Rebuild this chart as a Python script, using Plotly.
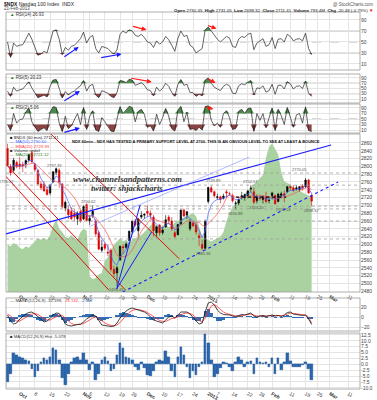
import plotly.graph_objects as go
import pandas as pd
import numpy as np

# ---------------- data ----------------
dates = ["2012-09-25","2012-09-26","2012-09-27","2012-09-28",
 "2012-10-01","2012-10-02","2012-10-03","2012-10-04","2012-10-05",
 "2012-10-08","2012-10-09","2012-10-10","2012-10-11","2012-10-12",
 "2012-10-15","2012-10-16","2012-10-17","2012-10-18","2012-10-19",
 "2012-10-22","2012-10-23","2012-10-24","2012-10-25","2012-10-26",
 "2012-10-31","2012-11-01","2012-11-02",
 "2012-11-05","2012-11-06","2012-11-07","2012-11-08","2012-11-09",
 "2012-11-12","2012-11-13","2012-11-14","2012-11-15","2012-11-16",
 "2012-11-19","2012-11-20","2012-11-21","2012-11-23",
 "2012-11-26","2012-11-27","2012-11-28","2012-11-29","2012-11-30",
 "2012-12-03","2012-12-04","2012-12-05","2012-12-06","2012-12-07",
 "2012-12-10","2012-12-11","2012-12-12","2012-12-13","2012-12-14",
 "2012-12-17","2012-12-18","2012-12-19","2012-12-20","2012-12-21",
 "2012-12-24","2012-12-26","2012-12-27","2012-12-28","2012-12-31",
 "2013-01-02","2013-01-03","2013-01-04",
 "2013-01-07","2013-01-08","2013-01-09","2013-01-10","2013-01-11",
 "2013-01-14","2013-01-15","2013-01-16","2013-01-17","2013-01-18",
 "2013-01-22","2013-01-23","2013-01-24","2013-01-25",
 "2013-01-28","2013-01-29","2013-01-30","2013-01-31","2013-02-01",
 "2013-02-04","2013-02-05","2013-02-06","2013-02-07","2013-02-08",
 "2013-02-11","2013-02-12","2013-02-13","2013-02-14","2013-02-15",
 "2013-02-19","2013-02-20","2013-02-21"]

opens = [2846,2800,2790,2810, 2806,2805,2806,2816,2835, 2805,2790,2755,2755,2740,
 2732,2760,2783,2790,2755, 2693,2690,2685,2680,2665, 2685,2665,2702,
 2660,2675,2660,2630,2585, 2600,2580,2585,2536,2527, 2560,2594,2592,2610,
 2632,2660,2635,2670,2675, 2685,2680,2670,2630,2650, 2630,2645,2670,2660,2630,
 2625,2653,2688,2675,2640, 2655,2650,2622,2600,2590, 2710,2745,2735,
 2720,2722,2718,2735,2730, 2725,2705,2706,2720,2720, 2725,2742,2735,2712,
 2720,2715,2722,2712,2725, 2725,2710,2725,2730,2735, 2748,2745,2742,2740,2750,
 2748,2765,2725]
highs = [2858,2806,2822,2815, 2823,2812,2818,2832,2842, 2808,2792,2762,2762,2748,
 2755,2788,2797,2795,2757, 2712,2700,2695,2690,2685, 2688,2700,2705,
 2675,2700,2665,2635,2612, 2605,2600,2590,2545,2545, 2597,2600,2605,2635,
 2660,2665,2668,2685,2680, 2700,2687,2675,2648,2652, 2645,2675,2675,2670,2635,
 2652,2690,2692,2685,2665, 2660,2655,2630,2612,2664, 2747,2750,2738,
 2730,2725,2730,2740,2735, 2730,2712,2718,2735,2730, 2740,2752,2745,2728,
 2728,2725,2735,2722,2735, 2728,2732,2735,2738,2750, 2752,2752,2752,2750,2755,
 2770,2768,2731]
lows = [2800,2776,2786,2795, 2793,2785,2795,2810,2808, 2786,2752,2740,2735,2725,
 2726,2758,2778,2745,2692, 2685,2665,2662,2660,2650, 2656,2663,2660,
 2650,2668,2620,2585,2580, 2585,2570,2530,2515,2494, 2558,2575,2588,2608,
 2628,2645,2620,2665,2665, 2672,2665,2620,2618,2622, 2625,2643,2652,2635,2616,
 2623,2650,2670,2665,2635, 2645,2625,2596,2585,2587, 2705,2732,2720,
 2715,2705,2715,2718,2725, 2708,2690,2700,2715,2712, 2718,2735,2703,2705,
 2712,2705,2705,2705,2715, 2702,2708,2718,2708,2732, 2738,2735,2738,2735,2738,
 2745,2730,2698]
closes = [2803,2783,2816,2799, 2800,2802,2815,2830,2812, 2792,2755,2745,2737,2728,
 2752,2786,2794,2760,2696, 2708,2676,2666,2670,2680, 2660,2697,2661,
 2667,2685,2627,2588,2593, 2590,2578,2536,2525,2540, 2595,2592,2601,2634,
 2660,2650,2665,2675,2677, 2680,2675,2635,2645,2630, 2637,2663,2660,2640,2620,
 2651,2688,2673,2684,2658, 2648,2632,2617,2590,2660, 2746,2735,2725,
 2722,2715,2724,2732,2730, 2712,2706,2715,2725,2728, 2737,2744,2708,2720,
 2718,2722,2710,2713,2732, 2704,2729,2730,2725,2748, 2745,2738,2745,2748,2744,
 2765,2732,2711]
volume_m = [300,290,310,300, 280,270,290,280,300, 320,340,330,340,330,
 360,420,460,400,380, 350,340,360,340,330, 380,400,390,
 100,80,90,110,120, 200,220,260,300,320, 340,320,330,310,
 330,340,350,360,380, 400,420,440,420,410, 420,430,410,420,440,
 450,460,470,480,490, 500,480,420,350,340, 330,320,330,
 340,350,380,450,500, 540,560,580,600,620, 640,660,680,700,
 720,740,850,920,940, 900,870,760,700,690, 680,660,650,640,630,
 620,610,600]

rsi14 = [50,22,48,42,44,45,55,66,55,42,
 26,28,33,30,52,70,72,55,27,40,
 35,42,44,50,56,68,48,58,62,38,
 30,42,40,38,32,28,36,64,70,66,
 72,70,62,60,64,58,50,48,40,52,
 46,50,60,54,44,33,56,70,60,62,
 44,40,30,34,38,72,77,70,62,55,
 50,56,60,57,42,40,55,60,58,64,
 66,36,48,52,56,42,45,58,38,55,
 56,50,64,60,52,55,56,52,66,38,
 27]
rsi5 = [40,20,55,40,45,48,62,75,52,35,
 15,20,25,18,58,82,84,50,14,38,
 26,35,40,52,60,80,40,60,66,25,
 15,42,38,32,20,15,35,80,78,72,
 85,82,62,66,72,62,45,42,22,55,
 40,50,70,58,35,20,65,84,62,66,
 35,34,20,28,22,82,90,70,55,48,
 42,58,66,60,32,30,60,68,64,74,
 80,25,52,50,60,36,42,66,28,62,
 62,48,76,68,48,58,60,50,78,32,
 20]
rsi2 = [30,8,70,35,48,50,75,90,40,20,
 5,12,18,8,75,95,92,35,4,60,
 15,25,45,70,30,92,12,58,80,10,
 5,55,40,25,6,4,50,95,70,82,
 96,92,40,78,85,66,20,25,6,68,
 30,55,88,60,15,6,82,96,40,75,
 12,15,8,20,10,95,98,45,25,35,
 20,70,80,55,12,15,78,85,70,88,
 90,5,70,45,70,18,50,90,8,85,
 62,30,92,55,20,65,70,35,94,8,
 5]
macd_line = [4,-8,-14,-12,-4,2,6,9,10,6,
 0,-6,-10,-8,-3,4,8,7,-2,-14,
 -17,-18,-16,-15,-14,-10,-4,0,4,2,
 -8,-16,-17,-18,-19,-18,-12,-2,6,12,
 16,18,16,14,13,10,6,0,-6,-8,
 -10,-12,-6,0,2,-2,4,10,10,10,
 6,-2,-8,-14,-12,10,28,30,24,14,
 8,5,5,4,2,1,3,5,4,6,
 8,2,0,2,3,1,2,4,2,3,
 1,4,9,10,6,5,4,3,4,-4,
 -15]
macd_signal = [6,2,-4,-8,-8,-5,-1,3,6,7,
 5,1,-3,-6,-6,-3,1,4,3,-3,
 -9,-13,-15,-15,-15,-13,-10,-6,-2,0,
 -3,-8,-12,-15,-17,-18,-16,-11,-4,3,
 9,13,15,15,14,12,9,5,0,-4,
 -7,-9,-9,-6,-3,-2,0,4,7,8,
 7,4,-1,-7,-10,-2,12,22,25,21,
 15,10,7,5,4,2,2,3,4,5,
 6,4,2,2,2,2,2,3,3,3,
 2,3,6,8,7,6,5,4,4,0,
 -12]
macd_hist = [-7.5,-4,5,4,3,2.5,2,1.5,-2,-5.5,
 -3,1,2.5,2,3,7,6,2,-6,-9,
 -4,1,2.5,3,2,5,2,-2.5,1,-6.5,
 -4,2,3,1.5,-3,-2,4,9,7,3,
 2.5,2,-1,-2.5,1,-1.5,-4.5,-5,-3,1,
 2,1.5,5.5,3,-3,-5.5,3,7.5,4,-1,
 -6,-3,-4.5,-1,1,13,9,2,-5.5,-4,
 -1.5,0.8,0.5,-1,-2.7,1,3,2,-1,1,
 1.5,-4,2.5,1,0.5,1,-1,2.5,-4,2.5,
 -2.5,1,5,1.5,-1,-1,-1,-0.5,1,-2,
 -6.5]

tick_pos = [4, 9, 14, 19, 25, 27, 32, 37, 41, 46, 51, 56, 61, 66, 69, 74, 79, 83, 87, 93, 98, 102, 106, 112]
tick_text = ["<b>Oct</b>", "8", "15", "22", "<b>Nov</b>", "5", "12", "19", "26", "<b>Dec</b>", "10", "17", "24",
             "<b>2013</b>", "7", "14", "22", "28", "<b>Feb</b>", "11", "19", "25", "<b>Mar</b>", "11"]
price_ticks = list(range(2480, 2861, 20))
hist_ticks = [-10, -7.5, -5, -2.5, 0, 2.5, 5, 7.5, 10, 12.5]

support_levels = [2783, 2752, 2698, 2691, 2660, 2614]
# analyst lines: (x0, p0, x1, p1, color, width, dash)
channel_lines = [
    (-0.5, 2805, 38.8, 2483, "#e01010", 1.0, "solid"),
    (-0.5, 2774, 33.3, 2483, "#e01010", 1.0, "solid"),
    (12.9, 2893, 56.5, 2563, "#e01010", 1.0, "solid"),
    (-0.5, 2627, 106.4, 2855, "#1a1aff", 1.1, "solid"),
    (37.9, 2478, 108.7, 2760, "#1a1aff", 1.1, "dot"),
    (27.0, 2646, 79.5, 2824, "#7f8fff", 0.6, "solid"),
    (35.9, 2486, 43.6, 2701, "#1a1aff", 1.0, "solid"),
    (35.9, 2486, 47.4, 2632, "#1a1aff", 1.0, "solid"),
]
black_support = (75.2, 91.6, 2721)
price_labels = [(-0.3, 2762, "2795.52"), (15.6, 2803, "2797.39"), (26.5, 2710, "2700.62"),
                (35.9, 2484, "2494.46"), (64.4, 2576, "2585.36"), (67.7, 2764, "2749.89"),
                (75.0, 2680, "2690.88"), (80.0, 2762, "2752.57"), (81.8, 2695, "2703.20"),
                (90.6, 2690, "2702.14"), (96.0, 2791, "2770.05"), (100.0, 2686, "2698.32")]
# arrows (panel axis, x_start, y_start, x_end, y_end, color)
rsi_arrows = [
    ("y", 18.2, 21, 23.4, 41, "#1a1aff"), ("y", 30.3, 21, 37.5, 28, "#1a1aff"),
    ("y", 40.8, 79, 45.7, 72, "#ff1a1a"), ("y", 65.4, 81, 68.7, 74, "#ff1a1a"),
    ("y2", 18.2, 0, 23.8, 40, "#1a1aff"), ("y2", 40.2, 90, 47.4, 75, "#ff1a1a"),
    ("y2", 65.4, 90, 68.4, 71, "#ff1a1a"),
    ("y3", 18.2, 0, 23.8, 17, "#1a1aff"), ("y3", 64.7, 94, 67.7, 86, "#ff1a1a"),
]

# ---------------- figure ----------------
W, H = 377, 400
n = len(closes)
idx = list(range(n))
XL, XR = 6 / W, 360 / W


def dom(top, bottom):
    return [1 - bottom / H, 1 - top / H]


def py(ypix):
    return 1 - ypix / H


GRID = "#e4e4e4"
TF = dict(size=5, color="#444", family="Liberation Sans")

fig = go.Figure()

rsi_panels = [("y", rsi14), ("y2", rsi5), ("y3", rsi2)]
for ax, r in rsi_panels:
    r = np.array(r, dtype=float)
    fig.add_trace(go.Scatter(x=idx, y=[70] * n, yaxis=ax, mode="lines", line=dict(width=0), hoverinfo="skip"))
    fig.add_trace(go.Scatter(x=idx, y=np.maximum(r, 70), yaxis=ax, mode="lines", line=dict(width=0),
                             fill="tonexty", fillcolor="#4e8a4e", hoverinfo="skip"))
    fig.add_trace(go.Scatter(x=idx, y=[30] * n, yaxis=ax, mode="lines", line=dict(width=0), hoverinfo="skip"))
    fig.add_trace(go.Scatter(x=idx, y=np.minimum(r, 30), yaxis=ax, mode="lines", line=dict(width=0),
                             fill="tonexty", fillcolor="#8a4242", hoverinfo="skip"))
    fig.add_trace(go.Scatter(x=idx, y=r, yaxis=ax, mode="lines", line=dict(color="#222", width=0.7)))

# volume (base axis y4), price on overlaying y7
fig.add_trace(go.Scatter(x=idx, y=volume_m, yaxis="y4", mode="lines", line=dict(width=0),
                         fill="tozeroy", fillcolor="#a9d2a0"))
cs = pd.Series(closes, dtype=float)
ma_fast = cs.ewm(span=4, adjust=False).mean()
ma_slow = cs.rolling(8, min_periods=1).mean()
fig.add_trace(go.Scatter(x=idx, y=ma_slow, yaxis="y7", mode="lines", line=dict(color="#ff5050", width=0.7)))
fig.add_trace(go.Scatter(x=idx, y=ma_fast, yaxis="y7", mode="lines", line=dict(color="#4060ff", width=0.7)))
fig.add_trace(go.Candlestick(x=idx, open=opens, high=highs, low=lows, close=closes, yaxis="y7",
                             increasing=dict(line=dict(color="#000", width=0.6), fillcolor="#000"),
                             decreasing=dict(line=dict(color="#e00000", width=0.6), fillcolor="#e00000"),
                             whiskerwidth=0))

# MACD panel
mh_small = np.array(macd_line) - np.array(macd_signal)
fig.add_trace(go.Bar(x=idx, y=mh_small, yaxis="y5", marker=dict(color="#2f6db5", line=dict(width=0))))
fig.add_trace(go.Scatter(x=idx, y=macd_signal, yaxis="y5", mode="lines", line=dict(color="#ff3030", width=0.8)))
fig.add_trace(go.Scatter(x=idx, y=macd_line, yaxis="y5", mode="lines", line=dict(color="#111", width=0.8)))

# Histogram panel
fig.add_trace(go.Bar(x=idx, y=macd_hist, xaxis="x2", yaxis="y6", width=0.85,
                     marker=dict(color="#2a66ad", line=dict(color="#1b4f8c", width=0.3))))


def yax(top, bottom, rng, tickvals, ticktext=None, **kw):
    d = dict(domain=dom(top, bottom), range=rng, side="right", anchor="x", tickvals=tickvals,
             tickfont=TF, showgrid=True, gridcolor=GRID, gridwidth=0.6, zeroline=False,
             ticks="", showline=False, fixedrange=True, ticklabeloverflow="allow", automargin=False)
    if ticktext is not None:
        d["ticktext"] = ticktext
    d.update(kw)
    return d


rsi_ticks = [10, 30, 50, 70, 90]
xcommon = dict(domain=[XL, XR], range=[-0.5, 115.9], tickvals=tick_pos, ticktext=tick_text,
               tickfont=dict(size=5, color="#333", family="Liberation Sans"), showgrid=True,
               gridcolor=GRID, gridwidth=0.6, zeroline=False, ticks="", showline=False, fixedrange=True,
               ticklabeloverflow="allow", automargin=False)

HB = 389
fig.update_layout(
    width=W, height=H, margin=dict(l=0, r=0, t=0, b=0, autoexpand=False),
    paper_bgcolor="white", plot_bgcolor="white", showlegend=False, bargap=0,
    font=dict(family="Liberation Sans", size=5, color="#333"),
    xaxis=dict(anchor="y4", rangeslider=dict(visible=False), **xcommon),
    xaxis2=dict(anchor="y6", matches="x", **xcommon),
    yaxis=yax(12, 70, [-1, 104.5], rsi_ticks),
    yaxis2=yax(74, 103, [-5.2, 105], rsi_ticks),
    yaxis3=yax(104, 133, [-0.9, 104.5], rsi_ticks),
    yaxis4=dict(domain=dom(134, 292), range=[0, 1000], visible=False, anchor="x", fixedrange=True),
    yaxis7=yax(134, 292, [2478, 2883], price_ticks, overlaying="y4"),
    yaxis5=yax(298, 331, [-28, 38], [-20, 0, 20]),
    yaxis6=dict(yax(333, HB, [-10.5, 13.3], hist_ticks, ["%.1f" % v for v in hist_ticks]), anchor="x2"),
)

shapes = []
# panel frames
for top, bottom in [(12, 70), (74, 103), (104, 133), (134, 292), (298, 331), (333, HB)]:
    shapes.append(dict(type="rect", xref="paper", yref="paper", x0=XL, x1=XR, y0=py(bottom), y1=py(top),
                       line=dict(color="#9a9a9a", width=0.8), layer="above"))
# RSI reference lines
for ax in ["y", "y2", "y3"]:
    for lvl, dash in [(70, "solid"), (30, "solid"), (50, "dash")]:
        shapes.append(dict(type="line", xref="paper", yref=ax, x0=XL, x1=XR, y0=lvl, y1=lvl,
                           line=dict(color="#8c8c8c", width=0.7, dash=dash), layer="below"))
# support levels in price panel
for lvl in support_levels:
    shapes.append(dict(type="line", xref="paper", yref="y7", x0=XL, x1=XR, y0=lvl, y1=lvl,
                       line=dict(color="#a0a0a0", width=0.8, dash="dot"), layer="above"))
shapes.append(dict(type="line", xref="x", yref="y7", x0=black_support[0], x1=black_support[1],
                   y0=black_support[2], y1=black_support[2], line=dict(color="#000", width=1.2, dash="dot")))
for x0, p0, x1, p1, col, w, dash in channel_lines:
    shapes.append(dict(type="line", xref="x", yref="y7", x0=x0, y0=p0, x1=x1, y1=p1,
                       line=dict(color=col, width=w, dash=dash)))
fig.update_layout(shapes=shapes)

ann = []


def txt(x, y, text, size=5, color="#222", anchor="left", family="Liberation Sans", **kw):
    ann.append(dict(x=x / W, y=py(y), xref="paper", yref="paper", text=text, showarrow=False,
                    xanchor=anchor, yanchor="middle", font=dict(size=size, color=color, family=family), **kw))


txt(2, 4, "<b>$NDX</b> Nasdaq 100 Index  INDX", size=5)
txt(2, 9, "21-Feb-2013", size=4.5, color="#444")
txt(375, 4, "@ StockCharts.com", size=4.5, color="#555", anchor="right")
txt(375, 10, "<b>Open</b> 2730.45  <b>High</b> 2731.05  <b>Low</b> 2698.32  <b>Close</b> 2711.41  "
             "<b>Volume</b> 793.4M  <b>Chg</b> -20.48 (-0.75%) <span style='color:#d00'>▼</span>",
    size=4.4, color="#222", anchor="right")
txt(8, 14, "<span style='color:#2d7a2d'>▲</span> RSI(14) 26.93", size=4.5, color="#333")
txt(8, 77, "<span style='color:#2d7a2d'>▲</span> RSI(5) 20.23", size=4.5, color="#333")
txt(8, 107, "<span style='color:#2d7a2d'>▲</span> RSI(2) 5.06", size=4.5, color="#333")

txt(8, 137, "■ $NDX (60 min) 2711.41", size=4.3, color="#222")
txt(8, 141.5, "— MA(50) 2730.60", size=4.3, color="#4060ff")
txt(8, 146, "— EMA(20) 2729.93", size=4.3, color="#ff4040")
txt(8, 150.5, "■ Volume undef", size=4.3, color="#333")
txt(8, 155, "— MA(200) 2721.12", size=4.3, color="#2d7a2d")
txt(70, 141, "<b>NDX 60min - NDX HAS TESTED A PRIMARY SUPPORT LEVEL AT 2700. THIS IS AN OBVIOUS LEVEL TO SEE AT LEAST A BOUNCE</b>",
    size=4, color="#111")
txt(127, 178.5, "<b><i>www.channelsandpatterns.com</i></b>", size=8.5, color="#333", anchor="center",
    family="Liberation Serif")
txt(127, 187.5, "<b><i>twitter: shjackcharts</i></b>", size=8.5, color="#333", anchor="center",
    family="Liberation Serif")

txt(8, 300, "— MACD(12,26,9) -15.199, <span style='color:#ff3030'>-13.132</span>, "
            "<span style='color:#2f6db5'>-2.067</span>", size=4.3, color="#333")
txt(8, 336, "■ MACD(12,26,9) Hist -5.078", size=4.3, color="#333")

for xi, p, t in price_labels:
    ann.append(dict(x=xi, y=p, xref="x", yref="y7", text=t, showarrow=False, xanchor="center",
                    yanchor="middle", font=dict(size=4, color="#555", family="Liberation Sans")))

for ax, xs, ys, xe, ye, col in rsi_arrows:
    ann.append(dict(x=xe, y=ye, ax=xs, ay=ys, xref="x", yref=ax, axref="x", ayref=ax, text="",
                    showarrow=True, arrowhead=2, arrowsize=0.8, arrowwidth=1.2, arrowcolor=col))

fig.update_layout(annotations=ann)
fig.write_html("out.html", config={"displayModeBar": False},
               post_script="document.body.style.margin='0px';document.body.style.overflow='hidden';")
